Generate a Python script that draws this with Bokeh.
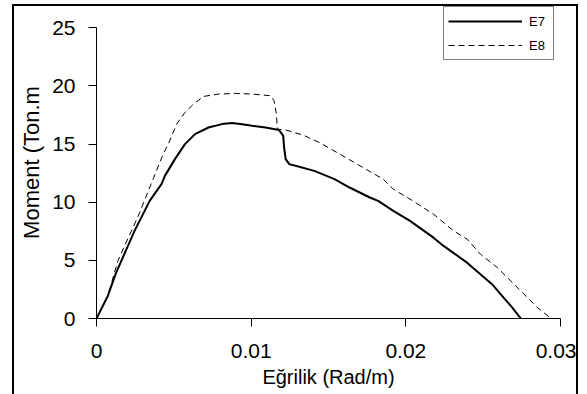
from bokeh.plotting import figure
from bokeh.models import (Range1d, FixedTicker, NumeralTickFormatter, Legend,
                          LegendItem)
from bokeh.embed import file_html
from bokeh.resources import INLINE

# ---- data ----
e7_x = [0, 0.00073, 0.00127, 0.00246, 0.00344, 0.0042, 0.00442, 0.00507,
        0.00572, 0.00637, 0.00724, 0.00811, 0.00876, 0.0093, 0.01007,
        0.01093, 0.0118, 0.01207, 0.01213, 0.01223, 0.01246, 0.01311,
        0.01408, 0.01539, 0.01636, 0.01767, 0.01821, 0.01919, 0.02027,
        0.02179, 0.02244, 0.02396, 0.02559, 0.02614, 0.02679, 0.02744]
e7_y = [0, 1.94, 3.94, 7.53, 10.11, 11.55, 12.26, 13.7,
        14.99, 15.85, 16.42, 16.71, 16.8, 16.71, 16.57,
        16.42, 16.2, 15.71, 14.7, 13.7, 13.27, 13.04,
        12.69, 11.98, 11.26, 10.4, 10.11, 9.25, 8.39,
        6.95, 6.24, 4.8, 2.93, 2.08, 1.08, 0]

e8_x = [0, 0.00073, 0.00138, 0.00181, 0.00236, 0.00279, 0.00322, 0.00366,
        0.00431, 0.00464, 0.00518, 0.00572, 0.00627, 0.00692, 0.0079,
        0.00898, 0.01007, 0.01126, 0.01148, 0.01163, 0.01169, 0.01223,
        0.01332, 0.01441, 0.01593, 0.01723, 0.01853, 0.01919, 0.02027,
        0.02179, 0.02309, 0.02396, 0.02483, 0.02592, 0.027, 0.02765,
        0.02852, 0.02939]
e8_y = [0, 1.94, 4.95, 6.24, 7.81, 9.1, 10.54, 11.98,
        14.13, 14.99, 16.71, 17.71, 18.43, 19.09, 19.29,
        19.35, 19.29, 19.15, 18.72, 17.57, 16.28, 16.2,
        15.79, 15.13, 13.98, 12.98, 11.98, 11.12, 10.26,
        8.97, 7.53, 6.82, 5.52, 4.37, 2.94, 2.08,
        0.93, 0]

x_ticks = [0, 0.01, 0.02, 0.03]
y_ticks = [0, 5, 10, 15, 20, 25]
series_names = ["E7", "E8"]
x_title = "Eğrilik (Rad/m)"
y_title = "Moment (Ton.m"

FONT = "Liberation Sans"

p = figure(width=562, height=388, output_backend="svg", toolbar_location=None,
           x_range=Range1d(0, 0.03), y_range=Range1d(0, 26.82),
           min_border_left=82, min_border_right=20, min_border_top=0,
           min_border_bottom=78)
p.styles = {"margin-left": "12px", "margin-top": "4px",
            "border-left": "2px solid black", "border-top": "2px solid black",
            "border-right": "2px solid black", "box-sizing": "content-box"}
p.outline_line_color = None
p.background_fill_color = "white"
p.border_fill_color = "white"
p.xgrid.visible = False
p.ygrid.visible = False

for ax in (p.xaxis[0], p.yaxis[0]):
    ax.axis_line_color = "black"
    ax.axis_line_width = 1
    ax.major_tick_line_color = "black"
    ax.major_tick_in = 0
    ax.major_tick_out = 8
    ax.minor_tick_line_color = None
    ax.major_label_text_font = FONT
    ax.major_label_text_font_size = "21px"
    ax.major_label_text_color = "black"
    ax.axis_label_text_font = FONT
    ax.axis_label_text_font_style = "normal"
    ax.axis_label_text_color = "black"

p.xaxis[0].ticker = FixedTicker(ticks=x_ticks)
p.xaxis[0].formatter = NumeralTickFormatter(format="0.[00]")
p.xaxis[0].major_label_standoff = 17
p.xaxis[0].axis_label = x_title
p.xaxis[0].axis_label_text_font_size = "20px"
p.xaxis[0].axis_label_standoff = 5

p.yaxis[0].ticker = FixedTicker(ticks=y_ticks)
p.yaxis[0].bounds = (0, 25)
p.yaxis[0].major_label_standoff = 13
p.yaxis[0].axis_label = y_title
p.yaxis[0].axis_label_text_font_size = "22px"
p.yaxis[0].axis_label_standoff = 5

r7 = p.line(e7_x, e7_y, line_color="black", line_width=2)
r8 = p.line(e8_x, e8_y, line_color="black", line_width=1, line_dash="6 4")

legend = Legend(items=[LegendItem(label=series_names[0], renderers=[r7]),
                       LegendItem(label=series_names[1], renderers=[r8])],
                location=(347, 258), orientation="vertical",
                border_line_color="black", border_line_width=1,
                background_fill_color="white", background_fill_alpha=1,
                label_text_font=FONT, label_text_font_size="13px",
                label_text_color="black",
                glyph_width=74, glyph_height=20, label_height=20,
                label_standoff=7, padding=4, spacing=4, margin=0)
p.add_layout(legend, "center")

open("out.html", "w").write(file_html(p, INLINE))
